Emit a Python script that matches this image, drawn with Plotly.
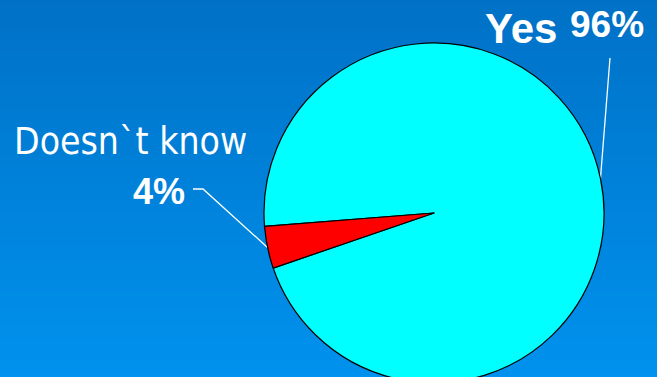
import math
import plotly.graph_objects as go

# ---- data ----
categories = ["Yes", "Doesn`t know"]
values = [96, 4]
pct_labels = ["96%", "4%"]
slice_colors = ["#00FFFF", "#FF0000"]

# ---- layout geometry (pixels) ----
W, H = 657, 420          # figure taller than window: pie is cut at the bottom like the original
VIS_H = 377
CX, CY, R = 434, 213, 170
ROTATION = 265.5

fig = go.Figure()

# gradient background on a hidden pixel axis
fig.add_trace(go.Heatmap(
    x=[0, W], y=[0, VIS_H], z=[[0, 0], [1, 1]],
    colorscale=[[0, "rgb(0,113,198)"], [1, "rgb(0,146,238)"]],
    zsmooth="best", showscale=False, hoverinfo="skip",
))

# pie
fig.add_trace(go.Pie(
    labels=categories, values=values, sort=False, direction="clockwise",
    rotation=ROTATION, textinfo="none", hoverinfo="skip", showlegend=False,
    marker=dict(colors=slice_colors, line=dict(color="black", width=1.2)),
    domain=dict(x=[(CX - R) / W, (CX + R) / W], y=[(H - CY - R) / H, (H - CY + R) / H]),
))

# slice mid points on the rim (derived from the values)
total = sum(values)
mids = []
acc = 0
for v in values:
    a = math.radians(ROTATION + 360 * (acc + v / 2) / total)
    mids.append((CX + R * math.sin(a), CY - R * math.cos(a)))
    acc += v

# leader lines
yes_pt, dk_pt = mids
fig.add_trace(go.Scatter(x=[610, yes_pt[0]], y=[58, yes_pt[1]], mode="lines",
                         line=dict(color="white", width=1.3), hoverinfo="skip", showlegend=False))
fig.add_trace(go.Scatter(x=[193, 203, dk_pt[0]], y=[189, 189, dk_pt[1]], mode="lines",
                         line=dict(color="white", width=1.3), hoverinfo="skip", showlegend=False))

bold = "Liberation Sans, Arial, sans-serif"
narrow = "Liberation Sans Narrow, Arial Narrow, DejaVu Sans Condensed, Liberation Sans, sans-serif"
anns = [
    dict(text="<b>" + categories[0] + "</b>", x=483, y=28, size=42, fam=bold),
    dict(text="<b>" + pct_labels[0] + "</b>", x=568, y=24, size=37, fam=bold),
    dict(text=categories[1], x=12, y=141, size=37, fam=narrow),
    dict(text="<b>" + pct_labels[1] + "</b>", x=131, y=191, size=36, fam=bold),
]
for a in anns:
    fig.add_annotation(x=a["x"], y=a["y"], xref="x", yref="y", text=a["text"], showarrow=False,
                       xanchor="left", yanchor="middle",
                       font=dict(family=a["fam"], size=a["size"], color="white"))

fig.update_xaxes(range=[0, W], visible=False, fixedrange=True)
fig.update_yaxes(range=[H, 0], visible=False, fixedrange=True)
fig.update_layout(width=W, height=H, margin=dict(l=0, r=0, t=0, b=0),
                  paper_bgcolor="rgb(0,146,238)", plot_bgcolor="rgba(0,0,0,0)")

fig.write_html("out.html", config={"displayModeBar": False, "staticPlot": True},
               post_script="document.body.style.margin='0';document.body.style.overflow='hidden';")
